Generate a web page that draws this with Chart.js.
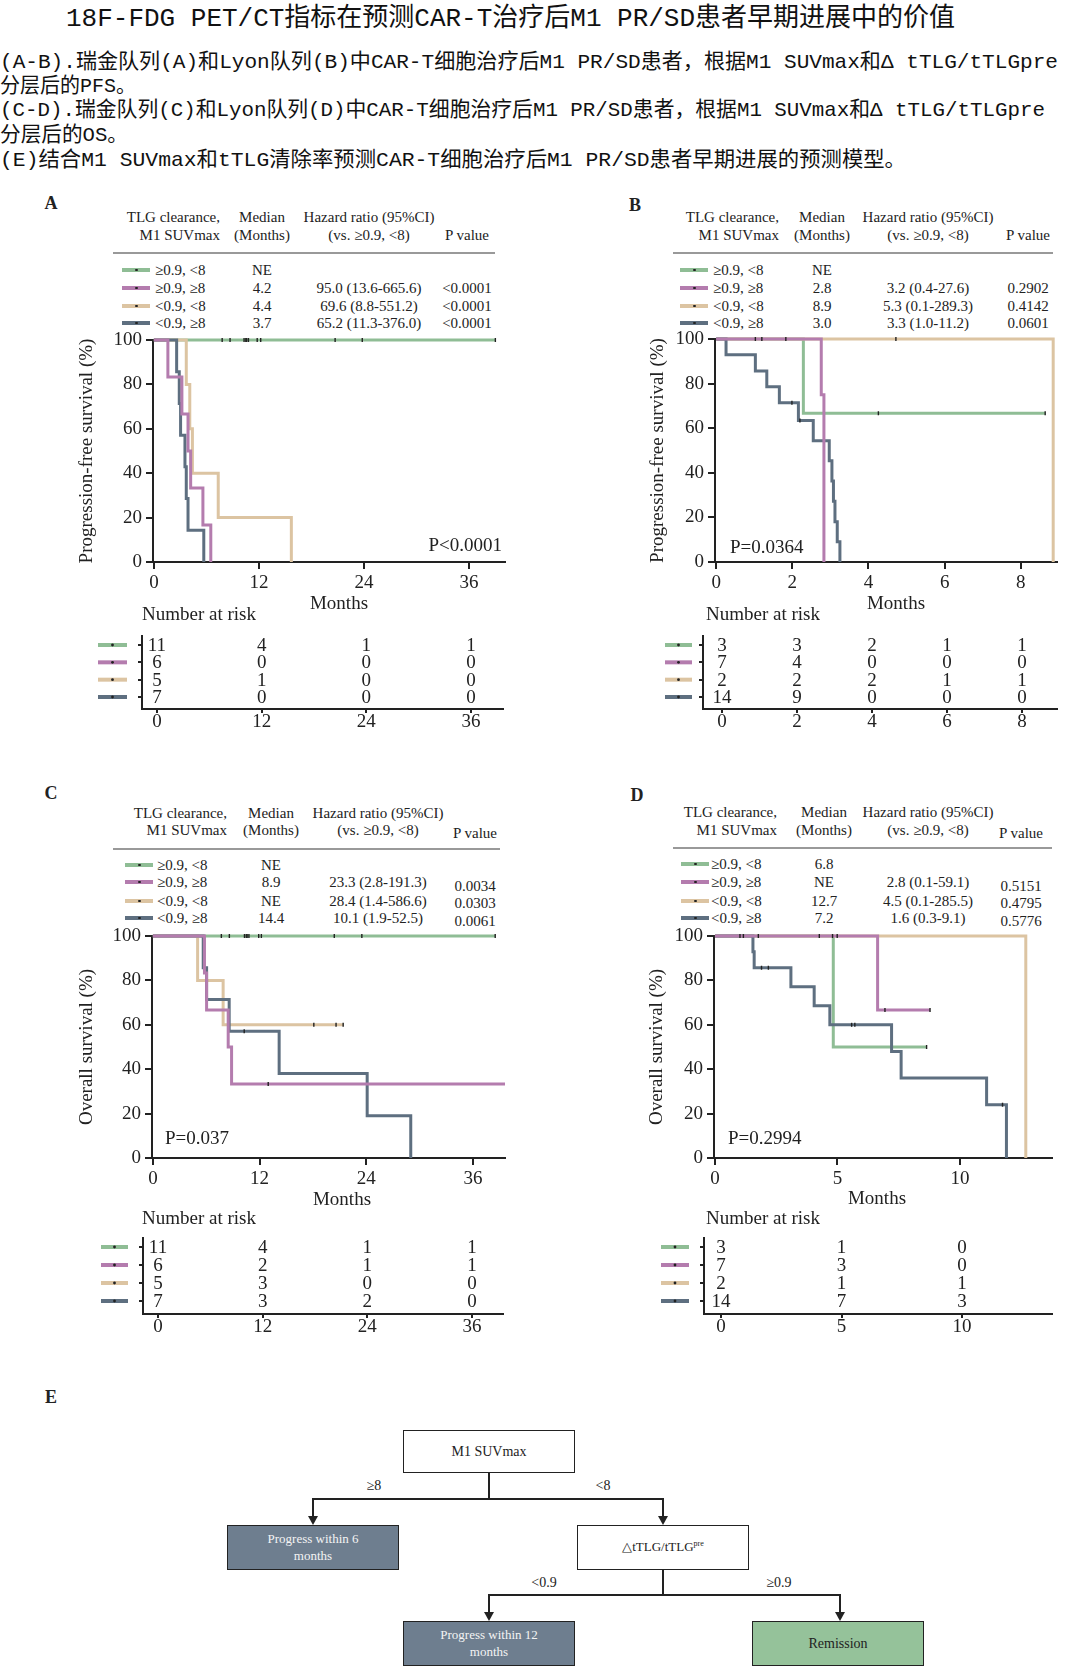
<!DOCTYPE html>
<html>
<head>
<meta charset="utf-8">
<title>18F-FDG PET/CT M1 PR/SD</title>
<script src="https://cdn.jsdelivr.net/npm/chart.js"></script>
<style>
  body { margin: 0; background: #fff; overflow: hidden; }
  #page { position: relative; width: 1080px; height: 1666px; overflow: hidden; background: #fff;
          font-family: "Liberation Serif", "Times New Roman", serif; color: #222; }
  .t { position: absolute; white-space: nowrap; line-height: 1; }
  .cap { position: absolute; white-space: nowrap; line-height: 1; color: #111; transform-origin: 0 50%;
         font-family: "Liberation Mono", "Noto Sans CJK SC", monospace; }
  canvas { position: absolute; }
  .box { position: absolute; box-sizing: border-box; border: 1.5px solid #222; display: flex;
         align-items: center; justify-content: center; text-align: center; line-height: 1.25; }
  .ln { position: absolute; background: #222; }
</style>
</head>
<body>
<div id="page"></div>
<script>
// ---- groups (TLG clearance, M1 SUVmax) ----
const groupLabels = ['≥0.9, <8', '≥0.9, ≥8', '<0.9, <8', '<0.9, ≥8'];
const groupColors = ['#8fbd95', '#b47cae', '#dcc4a2', '#5e6f80'];

// ---- A: PFS, Ruijin cohort (months, survival %) ----
const pfsRjTimes = [[0, 39.0], [0, 1.6, 3.2, 3.9, 4.2, 5.6, 6.5], [0, 3.7, 4.1, 4.4, 7.35, 15.7], [0, 2.6, 2.9, 3.05, 3.55, 3.7, 3.9, 5.7]];
const pfsRjSurv = [[100, 100], [100, 83.3, 66.7, 50, 33.3, 16.7, 0], [100, 80, 60, 40, 20, 0], [100, 85.7, 71.4, 57.1, 42.9, 28.6, 14.3, 0]];
const pfsRjCensor = [[7.8, 8.7, 10.3, 10.5, 10.6, 10.8, 11.8, 12.2, 20.7, 23.8, 39.0], [], [], []];

// ---- B: PFS, Lyon cohort ----
const pfsLyTimes = [[0, 2.29, 8.64], [0, 2.76, 2.83], [0, 8.85], [0, 0.26, 1.03, 1.33, 1.66, 2.16, 2.55, 2.97, 3.04, 3.08, 3.12, 3.18, 3.25]];
const pfsLySurv = [[100, 66.7, 66.7], [100, 75, 0], [100, 0], [100, 92.9, 85.7, 78.6, 71.4, 63.5, 54.4, 45.4, 36.3, 27.2, 18.1, 9.1, 0]];
const pfsLyCensor = [[4.26, 8.64], [1.03, 1.2, 1.83], [4.72], [1.99, 2.2]];

// ---- C: OS, Ruijin cohort ----
const osRjTimes = [[0, 38.5], [0, 5.8, 6.04, 8.47, 8.85, 39.6], [0, 5.03, 7.9, 21.4], [0, 5.66, 6.04, 8.58, 14.2, 24.1, 29.0]];
const osRjSurv = [[100, 100], [100, 83.3, 66.7, 50, 33.3, 33.3], [100, 80, 60, 60], [100, 85.7, 71.4, 57.1, 38.1, 19.05, 0]];
const osRjCensor = [[7.7, 8.6, 10.3, 10.5, 10.6, 10.8, 11.9, 12.2, 20.4, 23.5, 38.5], [12.97], [18.1, 20.6, 21.4], [10.27]];

// ---- D: OS, Lyon cohort ----
const osLyTimes = [[0, 4.83, 8.64], [0, 6.64, 8.78], [0, 12.69], [0, 1.55, 1.6, 3.1, 4.05, 4.69, 7.21, 7.6, 11.09, 11.9]];
const osLySurv = [[100, 50, 50], [100, 66.7, 66.7], [100, 0], [100, 92.9, 85.7, 77.1, 68.6, 60.0, 48.0, 36.0, 24.0, 0]];
const osLyCensor = [[4.26, 8.64], [1.02, 1.16, 1.77, 4.99, 6.94, 8.78], [4.8], [1.9, 2.18, 5.58, 5.71, 11.74]];

// ---- numbers at risk ----
const riskTicksRj = [0, 12, 24, 36];
const riskTicksLyPfs = [0, 2, 4, 6, 8];
const riskTicksLyOs = [0, 5, 10];
const riskPfsRj = [[11, 4, 1, 1], [6, 0, 0, 0], [5, 1, 0, 0], [7, 0, 0, 0]];
const riskPfsLy = [[3, 3, 2, 1, 1], [7, 4, 0, 0, 0], [2, 2, 2, 1, 1], [14, 9, 0, 0, 0]];
const riskOsRj = [[11, 4, 1, 1], [6, 2, 1, 1], [5, 3, 0, 0], [7, 3, 2, 0]];
const riskOsLy = [[3, 1, 0], [7, 3, 0], [2, 1, 1], [14, 7, 3]];

// ---- median / hazard ratio tables ----
const medPfsRj = ['NE', '4.2', '4.4', '3.7'];
const hrPfsRj = ['', '95.0 (13.6-665.6)', '69.6 (8.8-551.2)', '65.2 (11.3-376.0)'];
const pPfsRj = ['', '<0.0001', '<0.0001', '<0.0001'];
const medPfsLy = ['NE', '2.8', '8.9', '3.0'];
const hrPfsLy = ['', '3.2 (0.4-27.6)', '5.3 (0.1-289.3)', '3.3 (1.0-11.2)'];
const pPfsLy = ['', '0.2902', '0.4142', '0.0601'];
const medOsRj = ['NE', '8.9', 'NE', '14.4'];
const hrOsRj = ['', '23.3 (2.8-191.3)', '28.4 (1.4-586.6)', '10.1 (1.9-52.5)'];
const pOsRj = ['', '0.0034', '0.0303', '0.0061'];
const medOsLy = ['6.8', 'NE', '12.7', '7.2'];
const hrOsLy = ['', '2.8 (0.1-59.1)', '4.5 (0.1-285.5)', '1.6 (0.3-9.1)'];
const pOsLy = ['', '0.5151', '0.4795', '0.5776'];

const SERIF = '"Liberation Serif", "Times New Roman", serif';
Chart.defaults.font.family = SERIF;
Chart.defaults.color = '#222';
const page = document.getElementById('page');

function txt(x, y, s, size, align, extra) {
  const d = document.createElement('div');
  d.className = 't';
  d.textContent = s;
  d.style.left = x + 'px';
  d.style.top = y + 'px';
  d.style.fontSize = size + 'px';
  const tx = align === 'c' ? '-50%' : (align === 'r' ? '-100%' : '0');
  d.style.transform = 'translate(' + tx + ',-50%)';
  if (extra) Object.assign(d.style, extra);
  page.appendChild(d);
  return d;
}

// caption lines, stretched to the width they have in the figure
function caption(x, y, w, size, s) {
  const d = document.createElement('div');
  d.className = 'cap';
  d.textContent = s;
  d.style.left = x + 'px';
  d.style.top = y + 'px';
  d.style.fontSize = size + 'px';
  page.appendChild(d);
  const k = w / d.getBoundingClientRect().width;
  d.style.transform = 'translateY(-50%) scaleX(' + k + ')';
}

caption(66, 19, 889, 26, '18F-FDG PET/CT指标在预测CAR-T治疗后M1 PR/SD患者早期进展中的价值');
caption(0, 62, 1058, 21, '(A-B).瑞金队列(A)和Lyon队列(B)中CAR-T细胞治疗后M1  PR/SD患者，根据M1 SUVmax和Δ tTLG/tTLGpre');
caption(0, 86, 136, 21, '分层后的PFS。');
caption(0, 110, 1045, 21, '(C-D).瑞金队列(C)和Lyon队列(D)中CAR-T细胞治疗后M1 PR/SD患者，根据M1 SUVmax和Δ tTLG/tTLGpre');
caption(0, 135, 128, 21, '分层后的OS。');
caption(0, 160, 906, 21, '(E)结合M1 SUVmax和tTLG清除率预测CAR-T细胞治疗后M1 PR/SD患者早期进展的预测模型。');

// ---- header tables ----
function swatch(x, y, color) {
  const l = document.createElement('div');
  l.className = 'ln';
  Object.assign(l.style, { left: x + 'px', top: (y - 2) + 'px', width: '28px', height: '4px', background: color });
  page.appendChild(l);
  const dot = document.createElement('div');
  dot.className = 'ln';
  Object.assign(dot.style, { left: (x + 13) + 'px', top: (y - 1.5) + 'px', width: '2.5px', height: '2.5px', borderRadius: '50%' });
  page.appendChild(dot);
}

function hrTable(o, med, hr, pv) {
  txt(o.label[0], o.label[1], o.label[2], 18, 'l', { fontWeight: 'bold', transform: 'translate(-50%,-50%)' });
  txt(o.hdrRight, o.hdrY[0], 'TLG clearance,', 15, 'r');
  txt(o.hdrRight, o.hdrY[1], 'M1 SUVmax', 15, 'r');
  txt(o.medC, o.hdrY[0], 'Median', 15, 'c');
  txt(o.medC, o.hdrY[1], '(Months)', 15, 'c');
  txt(o.hrC, o.hdrY[0], 'Hazard ratio (95%CI)', 15, 'c');
  txt(o.hrC, o.hdrY[1], '(vs. ≥0.9, <8)', 15, 'c');
  txt(o.pC, o.pHdrY, 'P value', 15, 'c');
  const rule = document.createElement('div');
  rule.className = 'ln';
  Object.assign(rule.style, { left: o.lineX[0] + 'px', top: o.lineY + 'px', width: (o.lineX[1] - o.lineX[0]) + 'px', height: '1.5px', background: '#999' });
  page.appendChild(rule);
  groupLabels.forEach((g, i) => {
    const y = o.rowsY[i];
    swatch(o.swX, y, groupColors[i]);
    txt(o.labX, y, g, 15, 'l');
    txt(o.medC, y, med[i], 15, 'c');
    if (hr[i]) txt(o.hrC, y, hr[i], 15, 'c');
    if (pv[i]) txt(o.pC, o.pRowsY[i], pv[i], 15, 'c');
  });
}

hrTable({ label: [51, 203, 'A'], hdrRight: 220, hdrY: [217, 235], medC: 262, hrC: 369, pC: 467, pHdrY: 235,
  lineY: 252, lineX: [113, 495], rowsY: [270, 288, 306, 323], pRowsY: [270, 288, 306, 323], swX: 122, labX: 155 },
  medPfsRj, hrPfsRj, pPfsRj);
hrTable({ label: [635, 205, 'B'], hdrRight: 779, hdrY: [217, 235], medC: 822, hrC: 928, pC: 1028, pHdrY: 235,
  lineY: 252, lineX: [673, 1053], rowsY: [270, 288, 306, 323], pRowsY: [270, 288, 306, 323], swX: 680, labX: 713 },
  medPfsLy, hrPfsLy, pPfsLy);
hrTable({ label: [51, 793, 'C'], hdrRight: 227, hdrY: [813, 830], medC: 271, hrC: 378, pC: 475, pHdrY: 833,
  lineY: 848, lineX: [113, 500], rowsY: [865, 882, 901, 918], pRowsY: [865, 886, 903, 921], swX: 125, labX: 157 },
  medOsRj, hrOsRj, pOsRj);
hrTable({ label: [637, 795, 'D'], hdrRight: 777, hdrY: [812, 830], medC: 824, hrC: 928, pC: 1021, pHdrY: 833,
  lineY: 847, lineX: [673, 1052], rowsY: [864, 882, 901, 918], pRowsY: [864, 886, 903, 921], swX: 681, labX: 711 },
  medOsLy, hrOsLy, pOsLy);

// ---- Kaplan-Meier plots ----
function survAt(ts, ss, t) {
  let s = ss[0];
  for (let i = 0; i < ts.length; i++) if (ts[i] <= t) s = ss[i];
  return s;
}

const axisGrid = { display: true, drawOnChartArea: false, drawTicks: true, tickLength: 7, color: '#222', lineWidth: 2 };
const axisBorder = { display: true, color: '#222', width: 2 };
const drawOrder = [4, 1, 3, 2]; // magenta on top, then slate, tan, green

// fixed scale sizes so the plot area lands exactly where it is in the figure
function fixX(h) { return s => { s.height = h; s.paddingLeft = 0; s.paddingRight = 0; }; }
function fixY(w) { return s => { s.width = w; s.paddingTop = 0; s.paddingBottom = 0; }; }

function kmChart(o) {
  const Wy = 90, Hx = 40, pt = 14, pr = 6;
  const cv = document.createElement('canvas');
  const w = o.right - o.left + Wy + pr, h = o.bottom - o.top + pt + Hx;
  cv.width = w; cv.height = h;
  cv.style.left = (o.left - Wy) + 'px';
  cv.style.top = (o.top - pt) + 'px';
  cv.style.width = w + 'px';
  cv.style.height = h + 'px';
  page.appendChild(cv);

  const datasets = [];
  o.times.forEach((ts, g) => {
    datasets.push({
      data: ts.map((t, i) => ({ x: t, y: o.surv[g][i] })),
      stepped: true, borderColor: groupColors[g], borderWidth: 3, pointRadius: 0,
      fill: false, clip: 8, order: drawOrder[g]
    });
    datasets.push({
      data: o.censor[g].map(t => ({ x: t, y: survAt(ts, o.surv[g], t) })),
      showLine: false, pointStyle: 'line', rotation: 90, pointRadius: 2, pointBorderWidth: 1.4,
      pointBorderColor: '#222', pointBackgroundColor: '#222', clip: 8, order: 0
    });
  });

  const lh = 19 * 1.2;
  new Chart(cv, {
    type: 'line',
    data: { datasets },
    options: {
      responsive: false, animation: false, devicePixelRatio: 1,
      layout: { padding: { top: pt, right: pr, left: 0, bottom: 0 } },
      plugins: { legend: { display: false }, tooltip: { enabled: false } },
      scales: {
        x: {
          type: 'linear', min: o.xmin, max: o.xmax,
          afterFit: fixX(Hx),
          afterBuildTicks: s => { s.ticks = o.xticks.map(v => ({ value: v })); },
          grid: axisGrid, border: axisBorder,
          ticks: { font: { size: 19 }, color: '#222', padding: 3, maxRotation: 0 }
        },
        y: {
          type: 'linear', min: 0, max: 100,
          afterFit: fixY(Wy),
          grid: axisGrid, border: axisBorder,
          ticks: { stepSize: 20, font: { size: 19 }, color: '#222', padding: 4 },
          title: { display: true, text: o.ytitle, font: { size: 19 }, color: '#222',
                   padding: { top: o.titleX - (o.left - Wy) - lh / 2, bottom: 0 } }
        }
      }
    }
  });
}

kmChart({ left: 153, right: 505, top: 340, bottom: 562, xmin: -0.1, xmax: 40.1, xticks: [0, 12, 24, 36],
  ytitle: 'Progression-free survival (%)', titleX: 87, times: pfsRjTimes, surv: pfsRjSurv, censor: pfsRjCensor });
kmChart({ left: 715, right: 1057, top: 339, bottom: 562, xmin: -0.03, xmax: 8.95, xticks: [0, 2, 4, 6, 8],
  ytitle: 'Progression-free survival (%)', titleX: 658, times: pfsLyTimes, surv: pfsLySurv, censor: pfsLyCensor });
kmChart({ left: 152, right: 505, top: 936, bottom: 1158, xmin: -0.1, xmax: 39.6, xticks: [0, 12, 24, 36],
  ytitle: 'Overall survival (%)', titleX: 87, times: osRjTimes, surv: osRjSurv, censor: osRjCensor });
kmChart({ left: 714, right: 1052, top: 936, bottom: 1158, xmin: -0.04, xmax: 13.76, xticks: [0, 5, 10],
  ytitle: 'Overall survival (%)', titleX: 657, times: osLyTimes, surv: osLySurv, censor: osLyCensor });

txt(339, 602, 'Months', 19, 'c');
txt(896, 602, 'Months', 19, 'c');
txt(342, 1198, 'Months', 19, 'c');
txt(877, 1197, 'Months', 19, 'c');
txt(502, 544, 'P<0.0001', 19, 'r');
txt(730, 546, 'P=0.0364', 19, 'l');
txt(165, 1137, 'P=0.037', 19, 'l');
txt(728, 1137, 'P=0.2994', 19, 'l');
txt(142, 613, 'Number at risk', 19, 'l');
txt(706, 613, 'Number at risk', 19, 'l');
txt(142, 1217, 'Number at risk', 19, 'l');
txt(706, 1217, 'Number at risk', 19, 'l');

// ---- number-at-risk tables ----
function riskChart(o) {
  const Wy = 50, Hx = 26, pt = 2, pr = 4;
  const cv = document.createElement('canvas');
  const w = o.right - o.left + Wy + pr, h = o.bottom - o.top + pt + Hx;
  cv.width = w; cv.height = h;
  cv.style.left = (o.left - Wy) + 'px';
  cv.style.top = (o.top - pt) + 'px';
  cv.style.width = w + 'px';
  cv.style.height = h + 'px';
  page.appendChild(cv);

  const step = (o.rowY[1] - o.rowY[0]) / 3;
  const ymin = -(o.rowY[0] - o.top) / step;
  const ymax = ymin + (o.bottom - o.top) / step;

  const numbers = {
    id: 'riskNumbers',
    afterDatasetsDraw(chart) {
      const { ctx, chartArea } = chart;
      const x = chart.scales.x, y = chart.scales.y;
      ctx.save();
      o.counts.forEach((row, r) => {
        const py = y.getPixelForValue(r);
        const x1 = chartArea.left + o.sw[0], x2 = chartArea.left + o.sw[1];
        ctx.strokeStyle = groupColors[r];
        ctx.lineWidth = 4;
        ctx.beginPath(); ctx.moveTo(x1, py); ctx.lineTo(x2, py); ctx.stroke();
        ctx.fillStyle = '#222';
        ctx.beginPath(); ctx.arc((x1 + x2) / 2, py, 1.4, 0, Math.PI * 2); ctx.fill();
        ctx.font = '19px ' + SERIF;
        ctx.textAlign = 'center';
        ctx.textBaseline = 'middle';
        row.forEach((n, j) => ctx.fillText(String(n), x.getPixelForValue(o.ticks[j]), py + 1));
      });
      ctx.restore();
    }
  };

  new Chart(cv, {
    type: 'scatter',
    data: { datasets: [] },
    plugins: [numbers],
    options: {
      responsive: false, animation: false, devicePixelRatio: 1,
      layout: { padding: { top: pt, right: pr, left: 0, bottom: 0 } },
      plugins: { legend: { display: false }, tooltip: { enabled: false } },
      scales: {
        x: {
          type: 'linear', min: o.xmin, max: o.xmax,
          afterFit: fixX(Hx),
          afterBuildTicks: s => { s.ticks = o.ticks.map(v => ({ value: v })); },
          grid: Object.assign({}, axisGrid, { tickLength: 4 }), border: axisBorder,
          ticks: { font: { size: 19, lineHeight: 1 }, color: '#222', padding: 0, maxRotation: 0 }
        },
        y: {
          type: 'linear', reverse: true, min: ymin, max: ymax,
          afterFit: fixY(Wy),
          afterBuildTicks: s => { s.ticks = [0, 1, 2, 3].map(v => ({ value: v })); },
          grid: Object.assign({}, axisGrid, { tickLength: 4 }), border: axisBorder,
          ticks: { display: false }
        }
      }
    }
  });
}

riskChart({ left: 142, right: 503, top: 636, bottom: 709, rowY: [645, 697], xmin: -1.71, xmax: 39.66,
  ticks: riskTicksRj, counts: riskPfsRj, sw: [-44, -15] });
riskChart({ left: 703, right: 1057, top: 636, bottom: 709, rowY: [645, 697], xmin: -0.507, xmax: 8.93,
  ticks: riskTicksLyPfs, counts: riskPfsLy, sw: [-38, -11] });
riskChart({ left: 143, right: 503, top: 1238, bottom: 1314, rowY: [1247, 1301], xmin: -1.72, xmax: 39.56,
  ticks: riskTicksRj, counts: riskOsRj, sw: [-42, -15] });
riskChart({ left: 704, right: 1052, top: 1238, bottom: 1314, rowY: [1247, 1301], xmin: -0.705, xmax: 13.73,
  ticks: riskTicksLyOs, counts: riskOsLy, sw: [-43, -15] });

// ---- E: decision tree ----
txt(51, 1397, 'E', 18, 'l', { fontWeight: 'bold', transform: 'translate(-50%,-50%)' });

function box(x, y, w, h, html, bg, fg, size) {
  const b = document.createElement('div');
  b.className = 'box';
  Object.assign(b.style, { left: x + 'px', top: y + 'px', width: w + 'px', height: h + 'px',
    background: bg, color: fg, fontSize: size + 'px' });
  b.innerHTML = html;
  page.appendChild(b);
}
function line(x, y, w, h) {
  const l = document.createElement('div');
  l.className = 'ln';
  Object.assign(l.style, { left: x + 'px', top: y + 'px', width: w + 'px', height: h + 'px' });
  page.appendChild(l);
}
function arrowDown(x, y1, y2) {
  line(x - 1, y1, 2, y2 - y1 - 8);
  const a = document.createElement('div');
  Object.assign(a.style, { position: 'absolute', left: (x - 5) + 'px', top: (y2 - 9) + 'px', width: 0, height: 0,
    borderLeft: '5px solid transparent', borderRight: '5px solid transparent', borderTop: '9px solid #222' });
  page.appendChild(a);
}

box(403, 1430, 172, 43, 'M1 SUVmax', '#fff', '#222', 14);
line(488, 1473, 2, 27);
line(312, 1498, 352, 2);
arrowDown(313, 1499, 1525);
arrowDown(663, 1499, 1525);
txt(374, 1486, '≥8', 14, 'c');
txt(603, 1486, '<8', 14, 'c');
box(227, 1525, 172, 45, 'Progress within 6<br>months', '#6e7e8f', '#f4f4f4', 13);
box(577, 1525, 172, 45, '<span>△tTLG/tTLG<span style="font-size:8px;position:relative;top:-5px">pre</span></span>', '#fff', '#222', 13);
line(662, 1570, 2, 26);
line(488, 1594, 353, 2);
arrowDown(489, 1595, 1621);
arrowDown(840, 1595, 1621);
txt(544, 1583, '<0.9', 14, 'c');
txt(779, 1583, '≥0.9', 14, 'c');
box(403, 1621, 172, 45, 'Progress within 12<br>months', '#6e7e8f', '#f4f4f4', 13);
box(752, 1621, 172, 45, 'Remission', '#95c29a', '#222', 14);
</script>
</body>
</html>
